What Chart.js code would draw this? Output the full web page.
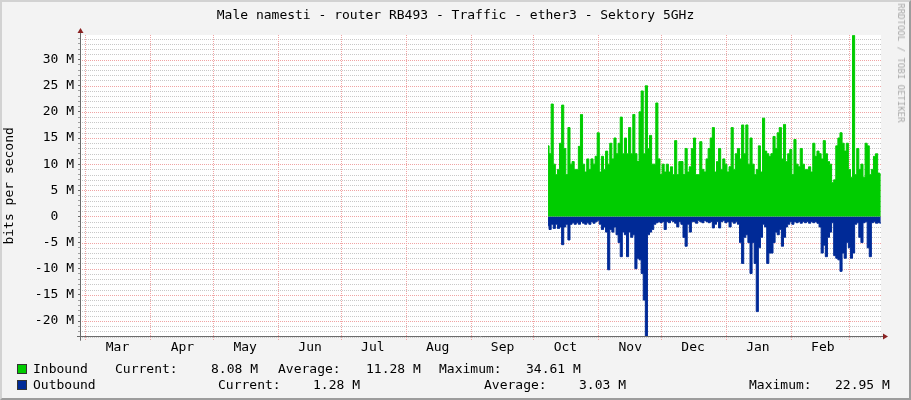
<!DOCTYPE html>
<html>
<head>
<meta charset="utf-8">
<title>Male namesti - router RB493 - Traffic - ether3 - Sektory 5GHz</title>
<script src="https://cdn.jsdelivr.net/npm/chart.js@4.4.1/dist/chart.umd.min.js"></script>
<style>
  html, body { margin: 0; padding: 0; background: #f3f3f3; }
  #wrap { position: relative; width: 911px; height: 400px; overflow: hidden;
          font-family: "DejaVu Sans Mono", monospace; font-size: 13px; color: #000; }
  #chart { position: absolute; left: 0; top: 0; }
  #frame { position: absolute; left: 0; top: 0; width: 911px; height: 400px; box-sizing: border-box;
           border-left: 2px solid #d2d2d2; border-top: 2px solid #d2d2d2;
           border-right: 2px solid #9c9c9c; border-bottom: 2px solid #9c9c9c; pointer-events: none; }
  .t { position: absolute; white-space: pre; line-height: 15px; }
  .box { position: absolute; width: 8px; height: 8px; border: 1px solid #333; }
  #title { left: 0; width: 911px; top: 7px; text-align: center; }
  #wm { position: absolute; left: 901px; top: 63px; transform: translate(-50%, -50%) rotate(90deg);
        font-size: 9px; color: #a8a8a8; white-space: nowrap; }
</style>
</head>
<body>
<div id="wrap">
  <canvas id="chart" width="911" height="400"></canvas>
  <div class="t" id="title">Male namesti - router RB493 - Traffic - ether3 - Sektory 5GHz</div>
  <div id="wm">RRDTOOL / TOBI OETIKER</div>

  <!-- legenda -->
  <div class="box" style="left:17px; top:364px; background:#00cc00;"></div>
  <div class="t" style="left:33px; top:361px;">Inbound</div>
  <div class="t" style="left:115px; top:361px;">Current:</div>
  <div class="t" style="left:211px; top:361px;">8.08 M</div>
  <div class="t" style="left:278px; top:361px;">Average:</div>
  <div class="t" style="left:366px; top:361px;">11.28 M</div>
  <div class="t" style="left:439px; top:361px;">Maximum:</div>
  <div class="t" style="left:526px; top:361px;">34.61 M</div>

  <div class="box" style="left:17px; top:380px; background:#002a97;"></div>
  <div class="t" style="left:33px; top:377px;">Outbound</div>
  <div class="t" style="left:218px; top:377px;">Current:</div>
  <div class="t" style="left:313px; top:377px;">1.28 M</div>
  <div class="t" style="left:484px; top:377px;">Average:</div>
  <div class="t" style="left:579px; top:377px;">3.03 M</div>
  <div class="t" style="left:749px; top:377px;">Maximum:</div>
  <div class="t" style="left:835px; top:377px;">22.95 M</div>

  <div id="frame"></div>
</div>

<script>
    "use strict";

    // Datos (dias desde el 1 de marzo; un valor por dia, en Mbit/s)
    var startDay = 221;

    var inbound = [
        13.5, 12, 21.5, 10, 8, 9, 14, 21.3, 13, 8,
        17, 10, 10.5, 9, 9, 13.4, 19.5, 10, 8.5, 11,
        9, 11, 10, 11.5, 16, 8.5, 11.5, 9, 12.5, 10,
        14, 11, 15, 12, 14, 19, 12, 15, 12, 17,
        12, 19.5, 12, 10.5, 20, 24, 12, 25, 13, 15.5,
        10, 10, 21.7, 11, 8, 10, 8.5, 10, 8.5, 9.5,
        8, 14.5, 8, 10.5, 10.5, 8, 13, 8.5, 9.5, 13,
        15, 8, 8, 14.3, 9, 8.5, 11, 13, 15, 17,
        8.5, 10.5, 13, 9, 11, 10, 8.5, 9.5, 17, 9,
        12, 13, 11, 17.5, 12, 17.5, 10, 15, 10, 8,
        9, 13.5, 8.5, 18.8, 12.5, 12, 11.5, 12, 15.3, 13,
        16, 17, 11, 17.6, 10.5, 12, 12.8, 8, 14.7, 10,
        9.5, 13, 10, 9, 9, 9.5, 8.5, 14, 11.5, 12.5,
        12, 11, 14.5, 12, 10.5, 10, 6.5, 7, 13.5, 15,
        16, 14, 12.5, 14, 9, 7.5, 34.6, 8, 13, 9,
        10, 7.5, 14, 13.5, 8, 9, 11.5, 12, 8.3, 8.08
    ];

    // Outbound se dibuja hacia abajo (valores en positivo)
    var outbound = [
        1.8, 2.5, 1.5, 2.3, 1.5, 2.3, 2, 5.4, 2, 1.5,
        4.5, 1.5, 1.2, 1.5, 1.2, 1.5, 1.0, 1.3, 1.5, 1.2,
        1.5, 1.0, 1.3, 1.0, 0.8, 1.5, 2.5, 2, 3, 10.2,
        2.5, 3, 2, 3.5, 5, 7.7, 3, 3.5, 7.7, 3,
        4, 3.5, 10, 8, 8.3, 10.9, 16, 22.95, 3.5, 3,
        2.5, 1.5, 1.2, 1.0, 1.2, 1.0, 2.5, 1.0, 1.2, 0.8,
        1.0, 1.3, 2.0, 1.0, 1.5, 4, 5.7, 1.5, 3, 1.0,
        1.0, 1.3, 0.8, 1.0, 1.2, 0.8, 1.0, 1.2, 1.0, 2.2,
        1.5, 1.0, 2.2, 1.0, 0.8, 1.2, 1.0, 2, 1.0, 1.3,
        1.0, 1.5, 5, 9, 4, 3.5, 5, 10.9, 5, 9,
        18.2, 6, 4, 1.5, 2, 9, 7, 7, 5, 3,
        3.5, 2.5, 5.7, 4, 2, 1.5, 1.0, 1.5, 1.0, 1.2,
        1.0, 1.3, 1.0, 1.2, 1.0, 1.3, 1.0, 1.2, 1.0, 1.3,
        2, 7, 5.5, 7.7, 4, 3, 1.2, 7.5, 8, 8.3,
        10.5, 7, 8, 5, 6, 8, 7, 1.5, 1.2, 4,
        5, 1.2, 1.0, 6, 7.7, 1.2, 1.0, 1.3, 1.2, 1.28
    ];

    // Inicio de cada mes (dias desde el 1 de marzo) y sus etiquetas
    var monthStarts = [0, 31, 61, 92, 122, 153, 184, 214, 245, 275, 306, 337, 365];
    var monthLabels = ['Mar', 'Apr', 'May', 'Jun', 'Jul', 'Aug', 'Sep', 'Oct', 'Nov', 'Dec', 'Jan', 'Feb'];

    // Etiquetas del eje y (M)
    var yTickLabels = [-20, -15, -10, -5, 0, 5, 10, 15, 20, 25, 30];

    var font = { family: '"DejaVu Sans Mono", monospace', size: 13 };
    var minorGrid = '#c8c8c8';
    var majorGrid = '#f0a4a4';

    // Fondo blanco del area del grafico
    var plotBackground = {
        id: 'plotBackground',
        beforeDraw: function (chart) {
            var ca = chart.chartArea, ctx = chart.ctx;
            ctx.save();
            ctx.fillStyle = '#ffffff';
            ctx.fillRect(ca.left, ca.top, ca.right - ca.left, ca.bottom - ca.top);
            ctx.restore();
        }
    };

    // Rejilla punteada (se dibuja con los ticks de las escalas)
    var dottedGrid = {
        id: 'dottedGrid',
        beforeDatasetsDraw: function (chart) {
            var ca = chart.chartArea, ctx = chart.ctx;
            var xs = chart.scales.x, ys = chart.scales.y;
            ctx.save();
            ctx.lineWidth = 1;
            ctx.setLineDash([1, 1]);
            ys.ticks.forEach(function (t) {
                var y = Math.round(ys.getPixelForValue(t.value)) + 0.5;
                ctx.strokeStyle = t.value % 5 === 0 ? majorGrid : minorGrid;
                ctx.beginPath();
                ctx.moveTo(ca.left + 1, y);
                ctx.lineTo(ca.right, y);
                ctx.stroke();
            });
            xs.ticks.forEach(function (t) {
                var x = Math.round(xs.getPixelForValue(t.value)) + 0.5;
                ctx.strokeStyle = majorGrid;
                ctx.beginPath();
                ctx.moveTo(x, ca.top);
                ctx.lineTo(x, ca.bottom + 4);
                ctx.stroke();
            });
            ctx.restore();
        }
    };

    // Ejes con flechas al estilo rrdtool
    var axisArrows = {
        id: 'axisArrows',
        afterDraw: function (chart) {
            var ca = chart.chartArea, ctx = chart.ctx;
            var x0 = Math.round(ca.left) - 0.5;
            var y0 = Math.floor(ca.bottom) + 0.5;
            ctx.save();
            ctx.strokeStyle = '#6a6a6a';
            ctx.lineWidth = 1;
            ctx.beginPath();
            ctx.moveTo(ca.left - 4, y0);
            ctx.lineTo(ca.right + 3, y0);
            ctx.moveTo(x0, ca.bottom + 4);
            ctx.lineTo(x0, ca.top - 3);
            ctx.stroke();
            ctx.fillStyle = '#8a2222';
            ctx.beginPath();
            ctx.moveTo(ca.right + 2, y0 - 3);
            ctx.lineTo(ca.right + 7, y0);
            ctx.lineTo(ca.right + 2, y0 + 3);
            ctx.closePath();
            ctx.fill();
            ctx.beginPath();
            ctx.moveTo(x0 - 3, ca.top - 2);
            ctx.lineTo(x0, ca.top - 7);
            ctx.lineTo(x0 + 3, ca.top - 2);
            ctx.closePath();
            ctx.fill();
            ctx.restore();
        }
    };

    var ctx = document.getElementById('chart').getContext('2d');
    var trafficChart = new Chart(ctx, {
        type: 'line',
        data: {
            datasets: [{
                label: 'Inbound',
                data: inbound.map(function (v, i) { return { x: startDay + i, y: v }; }),
                fill: 'origin',
                backgroundColor: '#00cc00',
                borderColor: '#00cc00',
                borderWidth: 1,
                pointRadius: 0,
                stepped: 'middle'
            }, {
                label: 'Outbound',
                data: outbound.map(function (v, i) { return { x: startDay + i, y: -v }; }),
                fill: 'origin',
                backgroundColor: '#002a97',
                borderColor: '#002a97',
                borderWidth: 1,
                pointRadius: 0,
                stepped: 'middle'
            }]
        },
        options: {
            responsive: false,
            animation: false,
            devicePixelRatio: 1,
            layout: { padding: { left: 0, top: 35, right: 30, bottom: 0 } },
            plugins: {
                legend: { display: false },
                tooltip: { enabled: false }
            },
            scales: {
                x: {
                    type: 'linear',
                    min: -2.15,
                    max: 380.1,
                    afterBuildTicks: function (s) {
                        s.ticks = monthStarts.map(function (v) { return { value: v }; });
                    },
                    afterFit: function (s) { s.height = 63.3; },
                    grid: {
                        drawOnChartArea: false,
                        drawTicks: true,
                        tickLength: 3,
                        color: 'rgba(0,0,0,0)'
                    },
                    border: { display: false },
                    ticks: {
                        autoSkip: false,
                        maxRotation: 0,
                        padding: 0,
                        labelOffset: 32,
                        color: '#000',
                        font: font,
                        callback: function (v, i) { return monthLabels[i] || ''; }
                    }
                },
                y: {
                    min: -23.0,
                    max: 34.7,
                    afterBuildTicks: function (s) {
                        var t = [];
                        for (var v = Math.ceil(s.min); v <= Math.floor(s.max); v++) t.push({ value: v });
                        s.ticks = t;
                    },
                    afterFit: function (s) { s.width = 81; },
                    grid: {
                        drawOnChartArea: false,
                        drawTicks: true,
                        tickLength: 3,
                        color: function (c) { return c.tick && c.tick.value % 5 === 0 ? '#6a6a6a' : '#a0a0a0'; }
                    },
                    border: { display: false },
                    ticks: {
                        autoSkip: false,
                        padding: 4,
                        color: '#000',
                        font: font,
                        callback: function (v) {
                            if (yTickLabels.indexOf(v) < 0) return '';
                            return v === 0 ? '0  ' : v + ' M';
                        }
                    },
                    title: {
                        display: true,
                        text: 'bits per second',
                        color: '#000',
                        font: font,
                        padding: { top: 2, bottom: 0 }
                    }
                }
            }
        },
        plugins: [plotBackground, dottedGrid, axisArrows]
    });
</script>
</body>
</html>
